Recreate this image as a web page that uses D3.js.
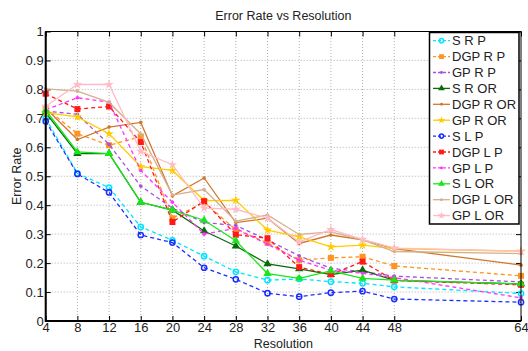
<!DOCTYPE html>
<html>
<head>
<meta charset="utf-8">
<script src="https://cdn.jsdelivr.net/npm/d3@7"></script>
<style>
  body { margin: 0; background: #fff; }
  text { font-family: "Liberation Sans", Arial, sans-serif; fill: #222; }
</style>
</head>
<body>
<svg id="chart" width="528" height="351"></svg>
<script>
// resolutions on the x axis
const resolutions = [4, 8, 12, 16, 20, 24, 28, 32, 36, 40, 44, 48, 64];
const yTicks = [0, 0.1, 0.2, 0.3, 0.4, 0.5, 0.6, 0.7, 0.8, 0.9, 1];

const srp    = [0.700, 0.510, 0.461, 0.325, 0.279, 0.224, 0.170, 0.141, 0.145, 0.136, 0.130, 0.118, 0.095];
const dgprp  = [0.735, 0.647, 0.607, 0.637, 0.355, 0.410, 0.315, 0.270, 0.210, 0.218, 0.222, 0.190, 0.156];
const gprp   = [0.725, 0.714, 0.610, 0.466, 0.390, 0.340, 0.330, 0.280, 0.225, 0.182, 0.170, 0.155, 0.135];
const sror   = [0.720, 0.578, 0.578, 0.410, 0.383, 0.311, 0.259, 0.197, 0.180, 0.160, 0.176, 0.140, 0.128];
const dgpror = [0.735, 0.627, 0.670, 0.686, 0.432, 0.494, 0.340, 0.355, 0.268, 0.297, 0.280, 0.250, 0.193];
const gpror  = [0.720, 0.705, 0.647, 0.533, 0.520, 0.416, 0.417, 0.314, 0.291, 0.256, 0.262, 0.250, 0.241];
const slp    = [0.690, 0.508, 0.444, 0.297, 0.271, 0.184, 0.144, 0.096, 0.084, 0.098, 0.103, 0.076, 0.065];
const dgplp  = [0.785, 0.732, 0.741, 0.618, 0.342, 0.414, 0.298, 0.286, 0.186, 0.161, 0.205, 0.140, 0.125];
const gplp   = [0.730, 0.771, 0.756, 0.520, 0.410, 0.300, 0.320, 0.265, 0.210, 0.175, 0.165, 0.150, 0.080];
const slor   = [0.728, 0.584, 0.578, 0.410, 0.383, 0.348, 0.277, 0.164, 0.147, 0.173, 0.147, 0.141, 0.128];
const dgplor = [0.802, 0.794, 0.755, 0.646, 0.435, 0.454, 0.345, 0.366, 0.299, 0.308, 0.280, 0.240, 0.233];
const gplor  = [0.742, 0.817, 0.817, 0.586, 0.540, 0.390, 0.386, 0.355, 0.273, 0.316, 0.282, 0.252, 0.241];

const seriesNames = ['S R P', 'DGP R P', 'GP R P', 'S R OR', 'DGP R OR', 'GP R OR',
                     'S L P', 'DGP L P', 'GP L P', 'S L OR', 'DGP L OR', 'GP L OR'];
const seriesValues = [srp, dgprp, gprp, sror, dgpror, gpror, slp, dgplp, gplp, slor, dgplor, gplor];

// style per series (colour, dashed?, marker)
const styles = [
  { color: '#00e5ff', dash: true,  marker: 'circle' },
  { color: '#ff9422', dash: true,  marker: 'square' },
  { color: '#a64fe0', dash: true,  marker: 'point' },
  { color: '#0b6b0b', dash: false, marker: 'triangle' },
  { color: '#d0772e', dash: false, marker: 'point' },
  { color: '#ffcc00', dash: false, marker: 'diamond' },
  { color: '#1a2cff', dash: true,  marker: 'circle' },
  { color: '#ff1a1a', dash: true,  marker: 'square' },
  { color: '#ff33ff', dash: true,  marker: 'point' },
  { color: '#19e619', dash: false, marker: 'triangle' },
  { color: '#d4b08c', dash: false, marker: 'point' },
  { color: '#ffbcc8', dash: false, marker: 'diamond' }
];

const margin = { top: 31.5, right: 7, bottom: 30, left: 45.7 };
const width = 528, height = 351;
const svg = d3.select('#chart');

const x = d3.scaleLinear().domain([4, 64]).range([margin.left, width - margin.right]);
const y = d3.scaleLinear().domain([0, 1]).range([height - margin.bottom, margin.top]);

// grid
const grid = svg.append('g');
grid.selectAll('.gx').data(resolutions.slice(1, -1)).enter().append('line')
  .attr('x1', d => x(d)).attr('x2', d => x(d))
  .attr('y1', y(0)).attr('y2', y(1))
  .attr('stroke', '#b0b0b0').attr('stroke-dasharray', '1,2');
grid.selectAll('.gy').data(yTicks.slice(1, -1)).enter().append('line')
  .attr('x1', x(4)).attr('x2', x(64))
  .attr('y1', d => y(d)).attr('y2', d => y(d))
  .attr('stroke', '#b0b0b0').attr('stroke-dasharray', '1,2');

// axes, ticks pointing inward
svg.append('g').attr('transform', `translate(0,${y(0)})`)
  .call(d3.axisBottom(x).tickValues(resolutions).tickSize(-5).tickPadding(2).tickFormat(d3.format('d')))
  .call(g => g.select('.domain').remove());
svg.append('g').attr('transform', `translate(0,${y(1)})`)
  .call(d3.axisTop(x).tickValues(resolutions).tickSize(-5).tickFormat(''))
  .call(g => g.select('.domain').remove());
svg.append('g').attr('transform', `translate(${x(4)},0)`)
  .call(d3.axisLeft(y).tickValues(yTicks).tickSize(-5).tickPadding(2).tickFormat(d => d3.format('')(d)))
  .call(g => g.select('.domain').remove());
svg.append('g').attr('transform', `translate(${x(64)},0)`)
  .call(d3.axisRight(y).tickValues(yTicks).tickSize(-5).tickFormat(''))
  .call(g => g.select('.domain').remove());
svg.selectAll('.tick text').style('font-size', '13px').attr('fill', '#222');
svg.selectAll('.tick line').attr('stroke', '#000');

// plot lines
const line = d3.line().x((d, i) => x(resolutions[i])).y(d => y(d));

function drawMarker(g, type, color, cx, cy, s) {
  if (type === 'circle') {
    g.append('circle').attr('cx', cx).attr('cy', cy).attr('r', 2.6 * s)
      .attr('fill', 'none').attr('stroke', color).attr('stroke-width', 1.5);
  } else if (type === 'square') {
    g.append('rect').attr('x', cx - 3 * s).attr('y', cy - 3 * s)
      .attr('width', 6 * s).attr('height', 6 * s).attr('fill', color);
  } else if (type === 'triangle') {
    g.append('path').attr('d', d3.symbol(d3.symbolTriangle, 30 * s * s)())
      .attr('transform', `translate(${cx},${cy})`).attr('fill', color);
  } else if (type === 'diamond') {
    g.append('path').attr('d', d3.symbol(d3.symbolStar, 28 * s * s)())
      .attr('transform', `translate(${cx},${cy})`).attr('fill', color);
  } else {
    g.append('circle').attr('cx', cx).attr('cy', cy).attr('r', 1.8 * s).attr('fill', color);
  }
}

const plot = svg.append('g');
seriesValues.forEach((vals, k) => {
  const st = styles[k];
  plot.append('path').datum(vals)
    .attr('d', line)
    .attr('fill', 'none')
    .attr('stroke', st.color)
    .attr('stroke-width', 1.3)
    .attr('stroke-dasharray', st.dash ? '4,3' : null);
  vals.forEach((v, i) => drawMarker(plot, st.marker, st.color, x(resolutions[i]), y(v), 1));
});

// box
svg.append('rect')
  .attr('x', x(4)).attr('y', y(1))
  .attr('width', x(64) - x(4)).attr('height', y(0) - y(1))
  .attr('fill', 'none').attr('stroke', '#000').attr('stroke-width', 1);
svg.append('path')
  .attr('d', `M${x(4)},${y(1)}V${y(0)}H${x(64)}`)
  .attr('fill', 'none').attr('stroke', '#000').attr('stroke-width', 2);

// title and axis labels
svg.append('text').attr('x', (x(4) + x(64)) / 2).attr('y', 20)
  .attr('text-anchor', 'middle').style('font-size', '12.5px').text('Error Rate vs Resolution');
svg.append('text').attr('x', (x(4) + x(64)) / 2).attr('y', 348)
  .attr('text-anchor', 'middle').style('font-size', '12.5px').text('Resolution');
svg.append('text')
  .attr('transform', `translate(21,${(y(0) + y(1)) / 2}) rotate(-90)`)
  .attr('text-anchor', 'middle').style('font-size', '12.5px').text('Error Rate');

// legend
const lg = svg.append('g');
lg.append('rect').attr('x', 429.5).attr('y', 32.5).attr('width', 89.5).attr('height', 191.5)
  .attr('fill', '#fff').attr('stroke', '#000').attr('stroke-width', 1.5);
seriesNames.forEach((name, k) => {
  const st = styles[k];
  const ly = 40.7 + k * 15.9;
  lg.append('line').attr('x1', 433).attr('x2', 450).attr('y1', ly).attr('y2', ly)
    .attr('stroke', st.color).attr('stroke-width', 1.3)
    .attr('stroke-dasharray', st.dash ? '3,2' : null);
  drawMarker(lg, st.marker, st.color, 441.5, ly, 0.8);
  lg.append('text').attr('x', 452).attr('y', ly + 4.6).style('font-size', '13px').text(name);
});
</script>
</body>
</html>
